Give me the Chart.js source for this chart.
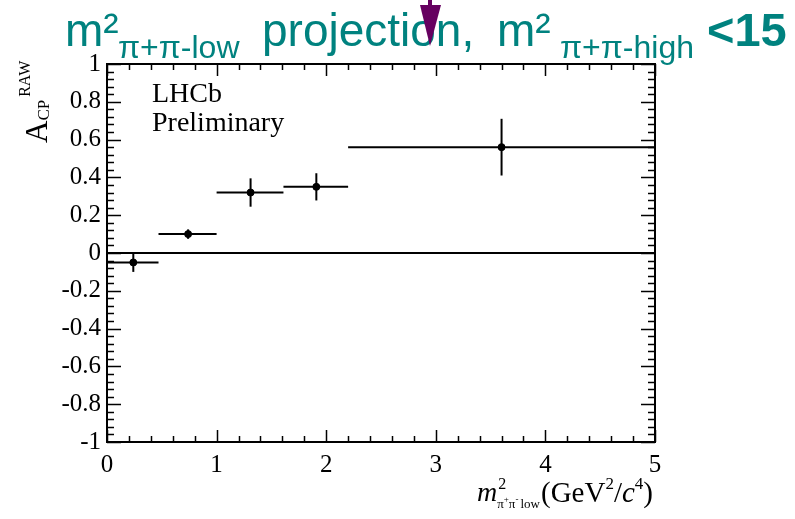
<!DOCTYPE html>
<html>
<head>
<meta charset="utf-8">
<script src="https://cdn.jsdelivr.net/npm/chart.js@4"></script>
<style>
  html, body { margin: 0; padding: 0; background: #fff; }
  canvas { display: block; }
</style>
</head>
<body>
<canvas id="c" width="795" height="519"></canvas>
<script>
// m2(pi+pi- low) bins, GeV^2/c^4
const binLow    = [0.0, 0.47, 1.0, 1.61, 2.2];
const binHigh   = [0.47, 1.0, 1.61, 2.2, 5.0];
const binCenter = [0.24, 0.74, 1.31, 1.91, 3.6];
// raw CP asymmetry and its error
const acpRaw = [-0.05, 0.10, 0.32, 0.35, 0.56];
const acpErr = [0.05, 0.025, 0.075, 0.072, 0.15];

const xTickLabels = ["0", "1", "2", "3", "4", "5"];
const yTickLabels = ["-1", "-0.8", "-0.6", "-0.4", "-0.2", "0", "0.2", "0.4", "0.6", "0.8", "1"];

const SERIF = '"Liberation Serif", "Times New Roman", serif';
const SANS = '"Liberation Sans", Arial, sans-serif';
const TEAL = "#00827f";

// build the datasets from the arrays above
const datasets = [];
datasets.push({
  label: "points",
  data: binCenter.map((x, i) => ({ x: x, y: acpRaw[i] })),
  showLine: false,
  pointRadius: 3.5,
  pointBackgroundColor: "#000",
  pointBorderColor: "#000",
});
binCenter.forEach((x, i) => {
  // horizontal bar = bin width
  datasets.push({
    data: [{ x: binLow[i], y: acpRaw[i] }, { x: binHigh[i], y: acpRaw[i] }],
    showLine: true, borderColor: "#000", borderWidth: 2, pointRadius: 0,
  });
  // vertical error bar
  datasets.push({
    data: [{ x: x, y: acpRaw[i] - acpErr[i] }, { x: x, y: acpRaw[i] + acpErr[i] }],
    showLine: true, borderColor: "#000", borderWidth: 2, pointRadius: 0,
  });
});
// zero line
datasets.push({
  data: [{ x: 0, y: 0 }, { x: 5, y: 0 }],
  showLine: true, borderColor: "#000", borderWidth: 2, pointRadius: 0,
});

// ROOT style frame with inward ticks on all four sides
const rootFrame = {
  id: "rootFrame",
  afterDatasetsDraw(chart) {
    const { ctx, chartArea: a, scales: { x, y } } = chart;
    ctx.save();
    ctx.strokeStyle = "#000";
    ctx.lineWidth = 2;
    ctx.strokeRect(a.left, a.top, a.right - a.left, a.bottom - a.top);
    ctx.lineWidth = 1.5;
    ctx.beginPath();
    for (let i = 0; i <= 25; i++) {
      const px = Math.round(x.getPixelForValue(i * 0.2)) + 0.5;
      const len = i % 5 === 0 ? 12 : 6;
      ctx.moveTo(px, a.bottom); ctx.lineTo(px, a.bottom - len);
      ctx.moveTo(px, a.top); ctx.lineTo(px, a.top + len);
    }
    for (let i = 0; i <= 50; i++) {
      const py = Math.round(y.getPixelForValue(-1 + i * 0.04)) + 0.5;
      const len = i % 5 === 0 ? 14 : 7;
      ctx.moveTo(a.left, py); ctx.lineTo(a.left + len, py);
      ctx.moveTo(a.right, py); ctx.lineTo(a.right - len, py);
    }
    ctx.stroke();
    ctx.restore();
  }
};

// draws runs of text one after another: {t, font, dy}
function drawRuns(ctx, x, y, runs) {
  runs.forEach(r => {
    ctx.font = r.font;
    ctx.fillText(r.t, x, y + (r.dy || 0));
    x += ctx.measureText(r.t).width + (r.gap || 0);
  });
  return x;
}

const labels = {
  id: "labels",
  afterDraw(chart) {
    const ctx = chart.ctx;
    ctx.save();
    ctx.textBaseline = "alphabetic";
    ctx.textAlign = "left";

    // LHCb label
    ctx.fillStyle = "#000";
    ctx.font = "28px " + SERIF;
    ctx.fillText("LHCb", 152, 102);
    ctx.fillText("Preliminary", 152, 131);

    // x axis title
    const mx = drawRuns(ctx, 477, 501, [{ t: "m", font: "italic 28px " + SERIF }]);
    drawRuns(ctx, mx + 1, 501, [{ t: "2", font: "16px " + SERIF, dy: -12 }]);
    drawRuns(ctx, mx, 508, [
      { t: "π", font: "13px " + SERIF },
      { t: "+", font: "9px " + SERIF, dy: -6 },
      { t: "π", font: "13px " + SERIF },
      { t: "-", font: "9px " + SERIF, dy: -6, gap: 2 },
      { t: "low", font: "13px " + SERIF },
    ]);
    drawRuns(ctx, 541, 502, [
      { t: "(GeV", font: "29px " + SERIF },
      { t: "2", font: "17px " + SERIF, dy: -13 },
      { t: "/", font: "29px " + SERIF },
      { t: "c", font: "italic 29px " + SERIF },
      { t: "4", font: "17px " + SERIF, dy: -13 },
      { t: ")", font: "29px " + SERIF },
    ]);

    // y axis title, rotated
    ctx.save();
    ctx.translate(47, 143);
    ctx.rotate(-Math.PI / 2);
    let ax = drawRuns(ctx, 0, 0, [{ t: "A", font: "31px " + SERIF }]);
    ax = drawRuns(ctx, ax, 2, [{ t: "CP", font: "17px " + SERIF }]);
    drawRuns(ctx, ax + 3, -17, [{ t: "RAW", font: "16px " + SERIF }]);
    ctx.restore();

    // title
    ctx.fillStyle = TEAL;
    const big = "46px " + SANS, small = "32px " + SANS;
    drawRuns(ctx, 65, 46, [{ t: "m²", font: big }]);
    drawRuns(ctx, 118, 58, [{ t: "π+π-low", font: small }]);
    drawRuns(ctx, 262, 46, [{ t: "projection,", font: big }]);
    drawRuns(ctx, 497, 46, [{ t: "m²", font: big }]);
    drawRuns(ctx, 560, 58, [{ t: "π+π-high", font: small }]);
    drawRuns(ctx, 707, 46, [{ t: "<15", font: "bold 47px " + SANS }]);

    // purple marker arrow
    ctx.fillStyle = "#660060";
    ctx.fillRect(428, 0, 4, 7);
    ctx.beginPath();
    ctx.moveTo(420, 5);
    ctx.lineTo(441, 5);
    ctx.lineTo(430, 46);
    ctx.closePath();
    ctx.fill();
    ctx.restore();
  }
};

new Chart(document.getElementById("c"), {
  type: "scatter",
  data: { datasets: datasets },
  options: {
    responsive: false,
    animation: false,
    events: [],
    layout: { padding: { left: 0, right: 140, top: 64, bottom: 0 } },
    plugins: { legend: { display: false }, tooltip: { enabled: false }, title: { display: false } },
    scales: {
      x: {
        type: "linear", min: 0, max: 5,
        grid: { display: false, drawTicks: false },
        border: { display: false },
        afterFit(s) { s.height = 77; },
        ticks: {
          stepSize: 1, padding: 8, color: "#000", maxRotation: 0,
          font: { family: SERIF, size: 25 },
          callback: (v, i) => xTickLabels[i],
        },
      },
      y: {
        type: "linear", min: -1, max: 1,
        grid: { display: false, drawTicks: false },
        border: { display: false },
        afterFit(s) { s.width = 107; },
        ticks: {
          stepSize: 0.2, padding: 6, color: "#000",
          font: { family: SERIF, size: 25 },
          callback: (v, i) => yTickLabels[i],
        },
      },
    },
  },
  plugins: [rootFrame, labels],
});
</script>
</body>
</html>
